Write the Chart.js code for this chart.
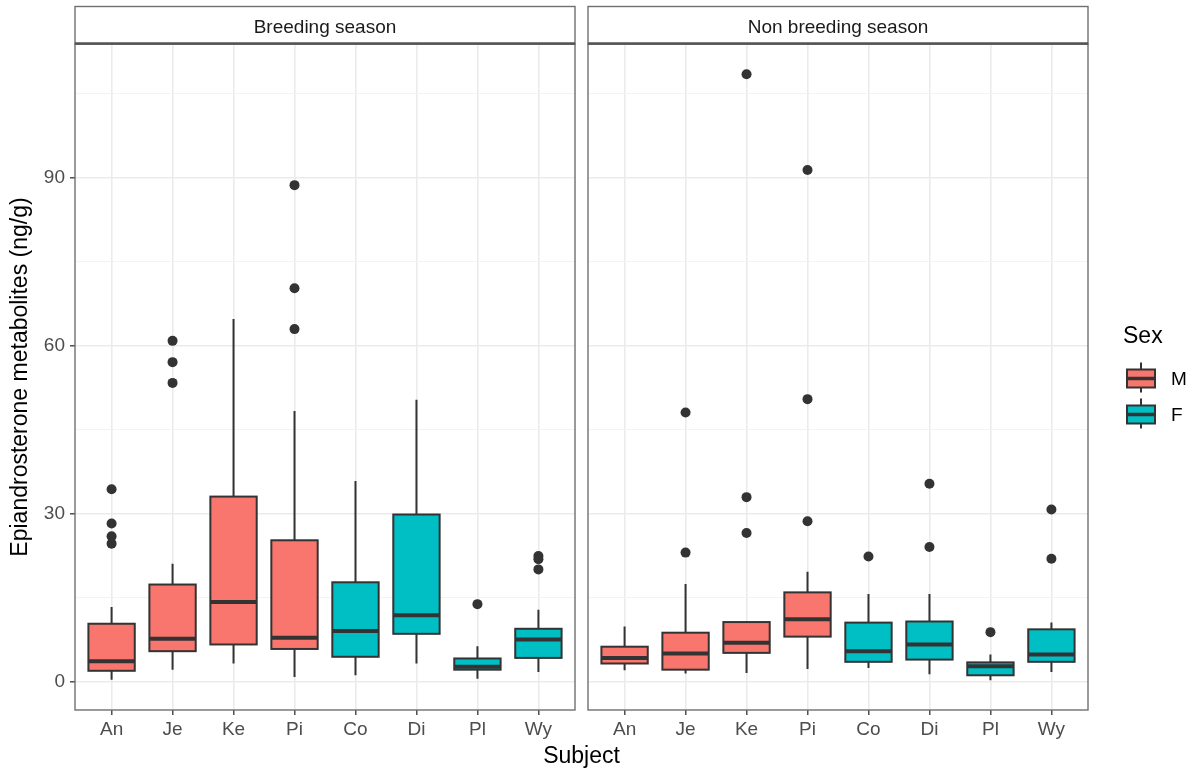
<!DOCTYPE html>
<html>
<head>
<meta charset="utf-8">
<script src="https://cdn.jsdelivr.net/npm/chart.js@4.4.1/dist/chart.umd.min.js"></script>
<style>
  body { margin: 0; background: #fff; }
  .wrap { position: relative; width: 1192px; height: 769px; }
  .wrap canvas { position: absolute; left: 0; top: 0; }
</style>
</head>
<body>
<div class="wrap">
  <canvas id="breeding" width="1192" height="769"></canvas>
  <canvas id="nonBreeding" width="1192" height="769"></canvas>
</div>
<script>
const subjects = ["An", "Je", "Ke", "Pi", "Co", "Di", "Pl", "Wy"];
const subjectSex = ["M", "M", "M", "M", "F", "F", "F", "F"];
const yTicks = [0, 30, 60, 90];
const panelTitles = ["Breeding season", "Non breeding season"];

// Breeding season
const breedMin = [0.3, 2.1, 3.2, 0.8, 1.1, 3.2, 0.5, 1.7];
const breedQ1 = [1.9, 5.4, 6.6, 5.8, 4.4, 8.5, 2.1, 4.2];
const breedMedian = [3.6, 7.6, 14.2, 7.8, 9.0, 11.8, 2.6, 7.5];
const breedQ3 = [10.3, 17.3, 33.0, 25.2, 17.7, 29.8, 4.1, 9.4];
const breedMax = [13.3, 21.0, 64.7, 48.3, 35.8, 50.3, 6.3, 12.8];
const breedOutliers = [[34.3, 28.2, 25.9, 24.6], [60.8, 57.0, 53.3], [], [88.6, 70.2, 62.9], [], [], [13.8], [22.4, 21.8, 20.0]];

// Non breeding season
const nonMin = [2.0, 1.4, 1.5, 2.2, 2.4, 1.3, 0.2, 1.7];
const nonQ1 = [3.2, 2.1, 5.1, 8.0, 3.5, 3.9, 1.1, 3.5];
const nonMedian = [4.2, 5.0, 6.9, 11.1, 5.4, 6.6, 2.7, 4.8];
const nonQ3 = [6.2, 8.7, 10.6, 15.9, 10.5, 10.7, 3.4, 9.3];
const nonMax = [9.8, 17.4, 10.6, 19.6, 15.6, 15.6, 4.8, 10.5];
const nonOutliers = [[], [48.0, 23.0], [108.4, 32.9, 26.5], [91.3, 50.4, 28.6], [22.3], [35.3, 24.0], [8.8], [30.7, 21.9]];

const sexColors = { M: "#F8766D", F: "#00BFC4" };
const FONT = "'Liberation Sans', Arial, sans-serif";
const INK = "#333333";
const BORDER = "#707070";
const BOX_WIDTH = 0.76;

const minorTicks = yTicks.map(v => v + 15);
const gridValues = yTicks.concat(minorTicks).sort((a, b) => a - b);

function drawBoxes(chart, st) {
  const { ctx, scales: { x, y } } = chart;
  ctx.save();
  subjects.forEach((s, i) => {
    const cx = x.getPixelForValue(i);
    const left = x.getPixelForValue(i - BOX_WIDTH / 2);
    const right = x.getPixelForValue(i + BOX_WIDTH / 2);
    const yMin = y.getPixelForValue(st.min[i]);
    const yQ1 = y.getPixelForValue(st.q1[i]);
    const yMed = y.getPixelForValue(st.median[i]);
    const yQ3 = y.getPixelForValue(st.q3[i]);
    const yMax = y.getPixelForValue(st.max[i]);

    ctx.strokeStyle = INK;
    ctx.lineWidth = 2;
    ctx.beginPath();
    ctx.moveTo(cx, yQ3); ctx.lineTo(cx, yMax);
    ctx.moveTo(cx, yQ1); ctx.lineTo(cx, yMin);
    ctx.stroke();

    ctx.fillStyle = sexColors[subjectSex[i]];
    ctx.fillRect(left, yQ3, right - left, yQ1 - yQ3);
    ctx.strokeRect(left, yQ3, right - left, yQ1 - yQ3);

    ctx.lineWidth = 4;
    ctx.beginPath();
    ctx.moveTo(left, yMed); ctx.lineTo(right, yMed);
    ctx.stroke();
  });
  ctx.restore();
}

function drawFrame(chart, title) {
  const { ctx, chartArea: a } = chart;
  ctx.save();
  ctx.fillStyle = "#fff";
  ctx.fillRect(a.left, 6.5, a.right - a.left, a.top - 6.5);
  ctx.strokeStyle = BORDER;
  ctx.lineWidth = 1.4;
  ctx.strokeRect(a.left, 6.5, a.right - a.left, a.top - 6.5);
  ctx.strokeRect(a.left, a.top, a.right - a.left, a.bottom - a.top);
  ctx.strokeStyle = "#555";
  ctx.lineWidth = 2.4;
  ctx.beginPath();
  ctx.moveTo(a.left, a.top - 0.5); ctx.lineTo(a.right, a.top - 0.5);
  ctx.stroke();
  ctx.fillStyle = "#1A1A1A";
  ctx.font = "19px " + FONT;
  ctx.textAlign = "center";
  ctx.textBaseline = "alphabetic";
  ctx.fillText(title, (a.left + a.right) / 2, 33);
  ctx.restore();
}

function drawYTitle(chart) {
  const { ctx, chartArea: a } = chart;
  ctx.save();
  ctx.translate(27, (a.top + a.bottom) / 2);
  ctx.rotate(-Math.PI / 2);
  ctx.fillStyle = "#000";
  ctx.font = "23px " + FONT;
  ctx.textAlign = "center";
  ctx.textBaseline = "alphabetic";
  ctx.fillText("Epiandrosterone metabolites (ng/g)", 0, 0);
  ctx.restore();
}

function drawXTitleAndLegend(chart) {
  const { ctx } = chart;
  ctx.save();
  ctx.fillStyle = "#000";
  ctx.font = "23px " + FONT;
  ctx.textAlign = "center";
  ctx.textBaseline = "alphabetic";
  ctx.fillText("Subject", 581.5, 763);

  // legend
  ctx.textAlign = "left";
  ctx.fillText("Sex", 1123, 343);
  const keys = ["M", "F"];
  keys.forEach((k, i) => {
    const cy = 378.5 + i * 36;
    const l = 1127, r = 1155, cx = (l + r) / 2;
    ctx.strokeStyle = INK;
    ctx.lineWidth = 2;
    ctx.beginPath();
    ctx.moveTo(cx, cy - 16); ctx.lineTo(cx, cy + 14);
    ctx.stroke();
    ctx.fillStyle = sexColors[k];
    ctx.fillRect(l, cy - 9, r - l, 18);
    ctx.strokeRect(l, cy - 9, r - l, 18);
    ctx.lineWidth = 3.5;
    ctx.beginPath();
    ctx.moveTo(l, cy); ctx.lineTo(r, cy);
    ctx.stroke();
    ctx.fillStyle = "#000";
    ctx.font = "19px " + FONT;
    ctx.textBaseline = "middle";
    ctx.fillText(k, 1171, cy + 1);
    ctx.textBaseline = "alphabetic";
  });
  ctx.restore();
}

function makePanel(canvasId, title, st, outliers, first) {
  const points = [];
  outliers.forEach((list, i) => list.forEach(v => points.push({ x: i, y: v })));

  return new Chart(document.getElementById(canvasId), {
    type: "scatter",
    data: {
      datasets: [{
        data: points,
        pointRadius: 5,
        pointHoverRadius: 5,
        pointBackgroundColor: INK,
        pointBorderWidth: 0,
      }],
    },
    options: {
      responsive: false,
      animation: false,
      events: [],
      devicePixelRatio: 1,
      layout: {
        padding: first
          ? { left: 0, right: 1192 - 575, top: 44, bottom: 0 }
          : { left: 588, right: 1192 - 1088, top: 44, bottom: 0 },
      },
      plugins: { legend: { display: false }, tooltip: { enabled: false } },
      scales: {
        x: {
          type: "linear",
          min: -0.6,
          max: 7.6,
          afterBuildTicks: (scale) => { scale.ticks = subjects.map((s, i) => ({ value: i })); },
          afterFit: (scale) => { scale.height = 59; },
          border: { display: false },
          grid: {
            color: "#EBEBEB",
            lineWidth: 1.6,
            tickColor: INK,
            tickWidth: 1.3,
            tickLength: 5,
          },
          ticks: {
            autoSkip: false,
            maxRotation: 0,
            padding: 3,
            color: "#4D4D4D",
            font: { family: FONT, size: 19 },
            callback: (v) => subjects[v],
          },
        },
        y: {
          type: "linear",
          min: -5.1,
          max: 113.8,
          afterBuildTicks: (scale) => { scale.ticks = gridValues.map(v => ({ value: v })); },
          afterFit: (scale) => { scale.width = first ? 75 : 0; },
          border: { display: false },
          grid: {
            color: (c) => (c.tick && yTicks.includes(c.tick.value) ? "#EBEBEB" : "#F2F2F2"),
            lineWidth: (c) => (c.tick && yTicks.includes(c.tick.value) ? 1.6 : 0.9),
            drawTicks: first,
            tickColor: (c) => (c.tick && yTicks.includes(c.tick.value) ? INK : "rgba(0,0,0,0)"),
            tickWidth: 1.3,
            tickLength: 5,
          },
          ticks: {
            display: first,
            autoSkip: false,
            padding: 5,
            color: "#4D4D4D",
            font: { family: FONT, size: 19 },
            callback: (v) => (yTicks.includes(v) ? String(v) : ""),
          },
        },
      },
    },
    plugins: [{
      id: "boxes",
      beforeDatasetsDraw: (chart) => drawBoxes(chart, st),
      afterDraw: (chart) => {
        drawFrame(chart, title);
        if (first) drawYTitle(chart);
        else drawXTitleAndLegend(chart);
      },
    }],
  });
}

makePanel("breeding", panelTitles[0],
  { min: breedMin, q1: breedQ1, median: breedMedian, q3: breedQ3, max: breedMax },
  breedOutliers, true);
makePanel("nonBreeding", panelTitles[1],
  { min: nonMin, q1: nonQ1, median: nonMedian, q3: nonQ3, max: nonMax },
  nonOutliers, false);
</script>
</body>
</html>
